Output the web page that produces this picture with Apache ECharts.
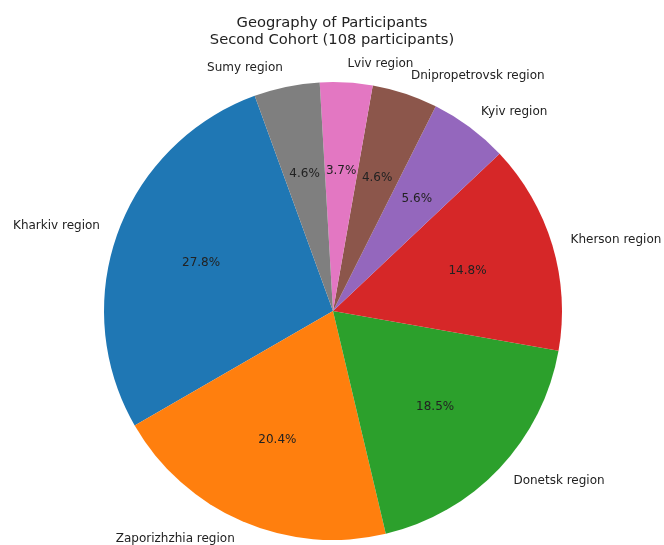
<!DOCTYPE html>
<html>
<head>
<meta charset="utf-8">
<script src="https://cdn.jsdelivr.net/npm/echarts@6/dist/echarts.min.js"></script>
<style>
  html, body { margin: 0; padding: 0; background: #fff; }
  #main { width: 664px; height: 545px; }
</style>
</head>
<body>
<div id="main"></div>
<script>
  // participants per region (108 total)
  const regions = ['Kharkiv region', 'Zaporizhzhia region', 'Donetsk region', 'Kherson region',
                   'Kyiv region', 'Dnipropetrovsk region', 'Lviv region', 'Sumy region'];
  const counts = [30, 22, 20, 16, 6, 5, 4, 5];
  const colors = ['#1f77b4', '#ff7f0e', '#2ca02c', '#d62728', '#9467bd', '#8c564b', '#e377c2', '#7f7f7f'];

  const total = counts.reduce((a, b) => a + b, 0);
  const R = 229;
  const center = [333, 311];
  const font = 'DejaVu Sans';

  let myChart = echarts.init(document.getElementById('main'));
  let data = regions.map((name, i) => ({ name: name, value: counts[i], itemStyle: { color: colors[i] } }));

  let option = {
    animation: false,
    backgroundColor: '#fff',
    title: {
      text: 'Geography of Participants\nSecond Cohort (108 participants)',
      left: 'center',
      top: 10,
      textStyle: { fontFamily: font, fontSize: 14.7, fontWeight: 'normal', color: '#222', lineHeight: 17 }
    },
    series: [
      {
        // wedges + region names outside
        type: 'pie',
        center: center,
        radius: [0, R],
        startAngle: 110,
        clockwise: false,
        avoidLabelOverlap: false,
        silent: true,
        itemStyle: { borderWidth: 0 },
        emphasis: { disabled: true },
        label: {
          show: true,
          position: 'outside',
          distanceToLabelLine: 0,
          fontFamily: font,
          fontSize: 12,
          color: '#222',
          formatter: '{b}'
        },
        labelLine: { show: false, length: 19, length2: 0 },
        data: data
      },
      {
        // percentages at 0.6 R
        type: 'pie',
        center: center,
        radius: [R * 0.2, R],
        startAngle: 110,
        clockwise: false,
        avoidLabelOverlap: false,
        silent: true,
        itemStyle: { color: 'rgba(0,0,0,0)', borderWidth: 0 },
        emphasis: { disabled: true },
        label: {
          show: true,
          position: 'inside',
          fontFamily: font,
          fontSize: 12,
          color: '#222',
          formatter: p => (p.value / total * 100).toFixed(1) + '%'
        },
        labelLine: { show: false },
        data: regions.map((name, i) => ({ name: name, value: counts[i] }))
      }
    ]
  };
  myChart.setOption(option);
</script>
</body>
</html>
